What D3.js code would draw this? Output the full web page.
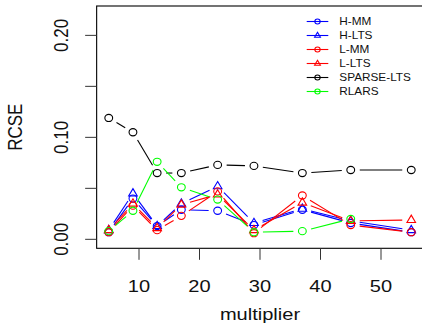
<!DOCTYPE html>
<html><head><meta charset="utf-8">
<script src="https://cdn.jsdelivr.net/npm/d3@7"></script>
<style>html,body{margin:0;padding:0;background:#fff;} svg{display:block;}</style>
</head><body><svg id="c" width="422" height="327"></svg>
<script>
const multipliers = [5, 9, 13, 17, 23, 29, 37, 45, 55];
const hMM   = [0.007, 0.040, 0.013, 0.029, 0.028, 0.014, 0.029, 0.016, 0.007];
const hLTS  = [0.009, 0.045, 0.013, 0.035, 0.052, 0.016, 0.030, 0.018, 0.009];
const lMM   = [0.007, 0.033, 0.009, 0.023, 0.047, 0.006, 0.043, 0.014, 0.007];
const lLTS  = [0.009, 0.035, 0.011, 0.034, 0.044, 0.009, 0.036, 0.018, 0.019];
const sparseLTS = [0.119, 0.105, 0.065, 0.065, 0.073, 0.072, 0.065, 0.068, 0.068];
const rlars = [0.008, 0.028, 0.076, 0.051, 0.039, 0.007, 0.008, 0.020, null];
const seriesNames = ["H-MM", "H-LTS", "L-MM", "L-LTS", "SPARSE-LTS", "RLARS"];
const seriesColors = ["#0000ff", "#0000ff", "#ff0000", "#ff0000", "#000000", "#00ff00"];
const seriesShapes = ["circle", "triangle", "circle", "triangle", "circle", "circle"];
const seriesValues = [hMM, hLTS, lMM, lLTS, sparseLTS, rlars];
const xTicks = [10, 20, 30, 40, 50];
const yTicks = [0, 0.05, 0.10, 0.15, 0.20];
const yTickLabels = ["0.00", "", "0.10", "", "0.20"];

const SX = 1.18;
const svg = d3.select("#c");
const pLeft = 96.65, pRight = 423.35, pTop = 6, pBottom = 248.3;
const x = d3.scaleLinear().domain([3, 57]).range([pLeft, pRight]);
const y = d3.scaleLinear().domain([-0.0088, 0.2288]).range([pBottom, pTop]);

function txt(g, s, tx, ty, size, anchor, rot) {
  return g.append("text")
    .attr("transform", `translate(${tx},${ty}) scale(${SX},1)` + (rot ? " rotate(-90)" : ""))
    .attr("text-anchor", anchor)
    .attr("font-family", "Arial, 'Liberation Sans', sans-serif")
    .attr("font-size", size)
    .attr("fill", "#111")
    .text(s);
}
function marker(g, shape, cx, cy, color, sc) {
  if (shape === "circle") {
    g.append("ellipse").attr("cx", cx).attr("cy", cy).attr("rx", 3.9 * sc).attr("ry", 3.6 * sc)
      .attr("fill", "none").attr("stroke", color).attr("stroke-width", 1.1);
  } else {
    const hw = 4.3 * sc, up = 4.8 * sc, dn = 2.5 * sc;
    g.append("path").attr("d", `M${cx},${cy - up}L${cx + hw},${cy + dn}L${cx - hw},${cy + dn}Z`)
      .attr("fill", "none").attr("stroke", color).attr("stroke-width", 1.1);
  }
}

svg.append("rect").attr("x", pLeft).attr("y", pTop).attr("width", pRight - pLeft).attr("height", pBottom - pTop)
  .attr("fill", "none").attr("stroke", "#000").attr("stroke-width", 1.1);

const ax = svg.append("g");
xTicks.forEach(v => {
  ax.append("line").attr("x1", x(v)).attr("x2", x(v)).attr("y1", pBottom).attr("y2", pBottom + 11.5)
    .attr("stroke", "#333").attr("stroke-width", 1);
  txt(ax, String(v), x(v), 292, 17, "middle", false);
});
yTicks.forEach((v, i) => {
  ax.append("line").attr("x1", pLeft - 11.5).attr("x2", pLeft).attr("y1", y(v)).attr("y2", y(v))
    .attr("stroke", "#333").attr("stroke-width", 1);
  if (yTickLabels[i]) txt(ax, yTickLabels[i], 68, y(v), 17, "middle", true);
});
txt(svg, "multiplier", (pLeft + pRight) / 2, 320, 17, "middle", false);
txt(svg, "RCSE", 21.5, (pTop + pBottom) / 2, 17, "middle", true);

const gap = 9;
const plot = svg.append("g");
seriesValues.forEach((vals, si) => {
  const col = seriesColors[si];
  for (let i = 0; i < vals.length - 1; i++) {
    if (vals[i] == null || vals[i + 1] == null) continue;
    const x1 = x(multipliers[i]), y1 = y(vals[i]), x2 = x(multipliers[i + 1]), y2 = y(vals[i + 1]);
    const dx = x2 - x1, dy = y2 - y1, L = Math.hypot(dx, dy);
    if (L <= 2 * gap) continue;
    const ux = dx / L, uy = dy / L;
    plot.append("line").attr("x1", x1 + ux * gap).attr("y1", y1 + uy * gap)
      .attr("x2", x2 - ux * gap).attr("y2", y2 - uy * gap)
      .attr("stroke", col).attr("stroke-width", 1.1);
  }
  vals.forEach((v, i) => {
    if (v == null) return;
    marker(plot, seriesShapes[si], x(multipliers[i]), y(v), col, 1);
  });
});

const lg = svg.append("g");
seriesNames.forEach((n, i) => {
  const cy = 21.5 + i * 14;
  lg.append("line").attr("x1", 306.7).attr("x2", 328.3).attr("y1", cy).attr("y2", cy)
    .attr("stroke", seriesColors[i]).attr("stroke-width", 1.1);
  marker(lg, seriesShapes[i], 317.5, cy, seriesColors[i], 0.68);
  txt(lg, n, 339.3, cy + 3.6, 10, "start", false);
});
</script></body></html>
